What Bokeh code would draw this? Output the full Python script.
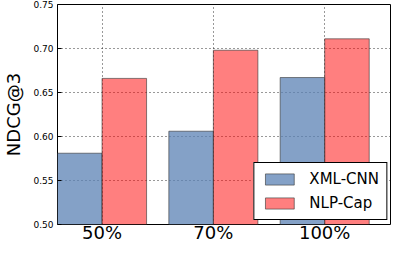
from bokeh.plotting import figure
from bokeh.models import ColumnDataSource, Range1d, FixedTicker, Legend, LegendItem, NumeralTickFormatter
from bokeh.transform import dodge
from bokeh.embed import file_html
from bokeh.resources import INLINE

categories = ["50%", "70%", "100%"]
xml_cnn = [0.581, 0.606, 0.667]
nlp_cap = [0.666, 0.698, 0.711]
y_ticks = [0.50, 0.55, 0.60, 0.65, 0.70, 0.75]

FONT = "DejaVu Sans"

src = ColumnDataSource(dict(x=list(range(len(categories))), xml=xml_cnn, nlp=nlp_cap))

p = figure(width=391, height=245, output_backend="svg", toolbar_location=None,
           x_range=Range1d(-0.4, len(categories) - 0.4), y_range=Range1d(0.50, 0.75),
           min_border_left=45, min_border_right=0, min_border_top=4, min_border_bottom=0)

r1 = p.vbar(x=dodge("x", -0.2), top="xml", bottom=0.5, width=0.4, source=src,
            fill_color="#5b82b4", fill_alpha=0.75, line_color="#333333", line_alpha=0.6, line_width=1)
r2 = p.vbar(x=dodge("x", 0.2), top="nlp", bottom=0.5, width=0.4, source=src,
            fill_color="#ff0000", fill_alpha=0.5, line_color="#333333", line_alpha=0.6, line_width=1)

p.xaxis.ticker = FixedTicker(ticks=list(range(len(categories))))
p.xaxis.major_label_overrides = {i: c for i, c in enumerate(categories)}
p.xaxis.major_label_text_font = FONT
p.xaxis.major_label_text_font_size = "18px"
p.xaxis.major_label_text_color = "black"
p.xaxis.major_tick_line_color = None
p.xaxis.major_tick_in = 0
p.xaxis.major_tick_out = 0
p.xaxis.minor_tick_line_color = None
p.xaxis.axis_line_color = None
p.xaxis.major_label_standoff = -3
p.xaxis.axis_label_standoff = 0

p.yaxis.ticker = FixedTicker(ticks=y_ticks)
p.yaxis.formatter = NumeralTickFormatter(format="0.00")
p.yaxis.major_label_text_font = FONT
p.yaxis.major_label_text_font_size = "9px"
p.yaxis.major_label_text_color = "black"
p.yaxis.major_tick_in = 4
p.yaxis.major_tick_out = 0
p.yaxis.minor_tick_line_color = None
p.yaxis.axis_line_color = None
p.yaxis.major_tick_line_color = "black"
p.yaxis.major_label_standoff = 4
p.yaxis.axis_label = "NDCG@3"
p.yaxis.axis_label_text_font = FONT
p.yaxis.axis_label_text_font_size = "18px"
p.yaxis.axis_label_text_font_style = "normal"
p.yaxis.axis_label_text_color = "black"
p.yaxis.axis_label_standoff = 6

p.outline_line_color = "black"
p.outline_line_width = 1
p.outline_line_alpha = 1

p.xgrid.grid_line_color = "black"
p.xgrid.grid_line_dash = "1 3"
p.xgrid.grid_line_alpha = 0.8
p.ygrid.grid_line_color = "black"
p.ygrid.grid_line_dash = "1 3"
p.ygrid.grid_line_alpha = 0.8
p.xgrid.ticker = FixedTicker(ticks=list(range(len(categories))))

legend = Legend(items=[LegendItem(label="XML-CNN", renderers=[r1]),
                       LegendItem(label="NLP-Cap", renderers=[r2])],
                location="bottom_right")
legend.label_text_font = FONT
legend.label_text_font_size = "15px"
legend.label_text_color = "black"
legend.glyph_width = 36
legend.glyph_height = 14
legend.spacing = 6
legend.padding = 7
legend.margin = 4
legend.label_standoff = 12
legend.border_line_color = "black"
legend.border_line_alpha = 1
legend.background_fill_alpha = 1
p.add_layout(legend)

open("out.html", "w").write(file_html(p, INLINE))
